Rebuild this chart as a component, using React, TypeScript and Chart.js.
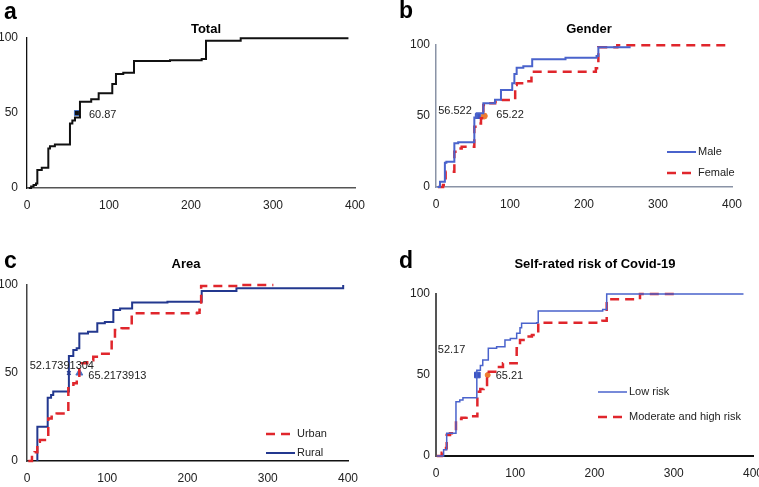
import React, { useEffect, useRef } from 'react';
import { Chart, registerables } from 'chart.js';
Chart.register(...registerables);

const W = 759;
const H = 487;
const FONT = "'Liberation Sans', Arial, Helvetica, sans-serif";

// ---- Axis ticks ----
const xTickStep = 100;
const yTickStep = 50;

// ---- Panel a: Total ----
const totalTimes = [2, 5, 8, 11, 12.6, 18, 26, 28, 34, 52.4, 55.3, 58.5, 64.6, 78.3, 87.4, 104, 108.5, 117.4, 130.5, 174.4, 213, 218.3, 260.6, 392];
const totalPct = [0, 1, 2, 3, 12, 13.5, 26.4, 27.8, 29, 43, 45, 47, 57.5, 59.1, 63.1, 69.3, 76, 76.9, 84.7, 85.1, 86, 98.2, 99.8, 99.8];
const totalMedian = 60.87;

// ---- Panel b: Gender ----
const maleTimes = [2, 5.4, 12, 14, 24.8, 30, 51.8, 55, 64, 79.7, 87.8, 103, 105.9, 109, 118, 130, 175, 217, 219.4, 263];
const malePct = [0, 3.7, 17, 17.8, 30.8, 31.5, 49, 52, 59, 61.4, 68.3, 73, 79.6, 84, 85, 90, 91, 92.2, 98.4, 98.4];
const femaleTimes = [2.7, 9.5, 13, 24.8, 30, 34.7, 51.8, 57.2, 60.8, 64, 68.5, 80, 89, 107, 109, 120, 129, 216, 219.4, 245, 397];
const femalePct = [0, 1.4, 10.8, 24.9, 27.2, 28.4, 42.5, 44.8, 48.4, 57.7, 59, 60, 61.3, 71.8, 73, 74.5, 81.2, 83.6, 98.4, 99.8, 99.8];
const maleMedian = 56.522;
const femaleMedian = 65.22;

// ---- Panel c: Area ----
const urbanTimes = [1.6, 6.2, 9.5, 12.9, 16, 26.5, 30.7, 37, 51.5, 57.8, 62, 65.2, 75, 82.6, 91, 105.5, 109.6, 117.9, 130.5, 212, 215, 217, 264, 307];
const urbanPct = [0, 3.8, 5, 11, 12, 24.2, 25.2, 27, 42.4, 44.2, 46.1, 55.5, 57.3, 59.2, 61, 67.8, 74.4, 75.4, 83.9, 84.2, 86, 99.4, 100, 100];
const ruralTimes = [12.9, 12.9, 25.8, 30, 32.7, 52.2, 57.7, 61.9, 65.2, 76, 87.6, 97, 107.6, 116, 131, 175, 217.7, 217.7, 261, 394];
const ruralPct = [0, 19.5, 36, 37.5, 39.5, 59.7, 63, 64, 72.5, 73.5, 78.2, 79, 85.8, 86.6, 90, 90.5, 91, 96.6, 98.2, 100];
const ruralMedian = 52.17391304;
const urbanMedian = 65.2173913;

// ---- Panel d: Self-rated risk ----
const lowTimes = [1, 9.6, 13.5, 25.2, 30, 34, 51.5, 56, 59, 66, 76.5, 87, 93.8, 101.8, 106, 108, 127, 129, 210.3, 215.4, 388];
const lowPct = [0, 3.9, 14, 33.5, 34.6, 36, 53, 55.8, 59.3, 66.5, 67.5, 71.6, 72.6, 75.7, 79.2, 81.9, 82.3, 89.5, 90.5, 100, 100];
const modTimes = [1, 7.2, 12.6, 13.5, 17.7, 25.2, 32.2, 38.5, 52.2, 55.9, 60, 64.4, 76.6, 84.5, 101.8, 106, 112.8, 121, 129, 210, 215.4, 257.4, 303.7];
const modPct = [0, 2, 5, 13, 14, 22.8, 23.6, 24.6, 39.7, 41.3, 43.8, 52, 55, 57.2, 66.5, 71.6, 73.7, 74.7, 82.3, 83.5, 96.7, 100, 100];
const lowMedian = 52.17;
const modMedian = 65.21;

const RED = '#e0262c';
const BLUE = '#4a63cc';
const NAVY = '#23388f';
const ORANGE = '#ed7d31';

const pts = (xs: number[], ys: number[]) => xs.map((x, i) => ({ x, y: ys[i] }));

const overlayPlugin = {
  id: 'overlay',
  afterDatasetsDraw(chart: any, _args: any, opts: any) {
    const ctx = chart.ctx;
    const ca = chart.chartArea;
    ctx.save();
    // median labels
    (opts.labels || []).forEach((l: any) => {
      const el = chart.getDatasetMeta(l.ds).data[0];
      ctx.font = `11px ${FONT}`;
      ctx.fillStyle = '#222';
      ctx.textAlign = l.align;
      ctx.textBaseline = 'middle';
      ctx.fillText(l.text, el.x + l.dx, el.y + l.dy);
    });
    // legend
    const lg = opts.legend;
    if (lg) {
      lg.items.forEach((it: any, i: number) => {
        const x0 = ca.left + lg.dx;
        const y = ca.bottom - lg.dy + i * lg.gap;
        ctx.beginPath();
        ctx.strokeStyle = it.color;
        ctx.lineWidth = it.width;
        ctx.setLineDash(it.dash || []);
        ctx.moveTo(x0, y);
        ctx.lineTo(x0 + 29, y);
        ctx.stroke();
        ctx.setLineDash([]);
        ctx.font = `11px ${FONT}`;
        ctx.fillStyle = '#222';
        ctx.textAlign = 'left';
        ctx.textBaseline = 'middle';
        ctx.fillText(it.text, x0 + 31, y);
      });
    }
    // title and panel letter
    if (opts.title) {
      ctx.font = `bold 13px ${FONT}`;
      ctx.fillStyle = '#000';
      ctx.textAlign = 'center';
      ctx.textBaseline = 'middle';
      ctx.fillText(opts.title.text, opts.title.x, opts.title.y);
    }
    if (opts.letter) {
      ctx.font = `bold 23px ${FONT}`;
      ctx.fillStyle = '#000';
      ctx.textAlign = 'left';
      ctx.textBaseline = 'alphabetic';
      ctx.fillText(opts.letter.text, opts.letter.x, opts.letter.y);
    }
    ctx.restore();
  },
};

type Series = { x: number[]; y: number[]; color: string; width: number; dash?: number[] };
type Marker = { x: number; style: string; radius: number; fill: string; stroke: string; bw?: number };

function makeConfig(p: any) {
  const XH = 25;
  const lineSets = p.series.map((s: Series) => ({
    data: pts(s.x, s.y),
    borderColor: s.color,
    borderWidth: s.width,
    borderDash: s.dash || [],
    stepped: 'before',
    pointRadius: 0,
    fill: false,
    clip: false,
  }));
  const markerSets = p.markers.map((m: Marker) => ({
    data: [{ x: m.x, y: 50 }],
    showLine: false,
    pointStyle: m.style,
    pointRadius: m.radius,
    backgroundColor: m.fill,
    borderColor: m.stroke,
    borderWidth: m.bw ?? 1,
    clip: false,
  }));
  return {
    type: 'line',
    data: { datasets: [...lineSets, ...markerSets] },
    options: {
      animation: false,
      responsive: false,
      events: [],
      layout: { padding: { left: 0, top: p.top, right: W - p.right, bottom: H - p.bottom - XH } },
      plugins: {
        legend: { display: false },
        tooltip: { enabled: false },
        overlay: p.overlay,
      },
      scales: {
        x: {
          type: 'linear',
          min: 0,
          max: 400,
          ticks: { stepSize: xTickStep, padding: 10, maxRotation: 0, font: { size: 12, family: FONT }, color: '#222' },
          grid: { display: false, drawTicks: false },
          border: { display: true, color: p.xAxisColor, width: p.xAxisWidth },
          afterFit: (s: any) => { s.height = XH; s.paddingLeft = 0; s.paddingRight = 0; },
        },
        y: {
          type: 'linear',
          min: 0,
          max: 100,
          ticks: { stepSize: yTickStep, padding: p.yPad, font: { size: 12, family: FONT }, color: '#222' },
          grid: { display: false, drawTicks: false },
          border: { display: true, color: p.yAxisColor, width: p.yAxisWidth },
          afterFit: (s: any) => { s.width = p.left; s.paddingTop = 0; s.paddingBottom = 0; },
        },
      },
    },
    plugins: [overlayPlugin],
  };
}

const panels = [
  {
    left: 27, right: 355, top: 38, bottom: 188, yPad: 9,
    xAxisColor: '#555', xAxisWidth: 1.5, yAxisColor: '#111', yAxisWidth: 1.3,
    series: [{ x: totalTimes, y: totalPct, color: '#111', width: 2 }],
    markers: [{ x: totalMedian, style: 'rect', radius: 3.5, fill: '#111', stroke: '#4472c4', bw: 1 }],
    overlay: {
      labels: [{ ds: 1, text: '60.87', dx: 12, dy: 2, align: 'left' }],
      title: { text: 'Total', x: 206, y: 29 },
      letter: { text: 'a', x: 4, y: 19 },
    },
  },
  {
    left: 436, right: 732, top: 45, bottom: 187, yPad: 6,
    xAxisColor: '#8a93a6', xAxisWidth: 1.5, yAxisColor: '#8a93a6', yAxisWidth: 1.5,
    series: [
      { x: maleTimes, y: malePct, color: BLUE, width: 2 },
      { x: femaleTimes, y: femalePct, color: RED, width: 2.5, dash: [9, 6] },
    ],
    markers: [
      { x: maleMedian, style: 'rect', radius: 3.5, fill: '#3c55c4', stroke: '#3c55c4' },
      { x: femaleMedian, style: 'circle', radius: 3, fill: ORANGE, stroke: ORANGE },
    ],
    overlay: {
      labels: [
        { ds: 2, text: '56.522', dx: -6, dy: -5, align: 'right' },
        { ds: 3, text: '65.22', dx: 12, dy: -1, align: 'left' },
      ],
      legend: {
        dx: 231, dy: 35, gap: 21,
        items: [
          { text: 'Male', color: BLUE, width: 2 },
          { text: 'Female', color: RED, width: 2.5, dash: [9, 6] },
        ],
      },
      title: { text: 'Gender', x: 589, y: 29 },
      letter: { text: 'b', x: 399, y: 18 },
    },
  },
  {
    left: 27, right: 348, top: 285, bottom: 461, yPad: 9,
    xAxisColor: '#111', xAxisWidth: 1.5, yAxisColor: '#444', yAxisWidth: 1.5,
    series: [
      { x: urbanTimes, y: urbanPct, color: RED, width: 2.5, dash: [9, 6] },
      { x: ruralTimes, y: ruralPct, color: NAVY, width: 2 },
    ],
    markers: [
      { x: ruralMedian, style: 'crossRot', radius: 2.5, fill: NAVY, stroke: NAVY, bw: 1.5 },
      { x: urbanMedian, style: 'triangle', radius: 4, fill: '#4472c4', stroke: '#4472c4' },
    ],
    overlay: {
      labels: [
        { ds: 2, text: '52.17391304', dx: -7, dy: -7, align: 'center' },
        { ds: 3, text: '65.2173913', dx: 9, dy: 3, align: 'left' },
      ],
      legend: {
        dx: 239, dy: 27, gap: 19,
        items: [
          { text: 'Urban', color: RED, width: 2.5, dash: [9, 6] },
          { text: 'Rural', color: NAVY, width: 2 },
        ],
      },
      title: { text: 'Area', x: 186, y: 264 },
      letter: { text: 'c', x: 4, y: 268 },
    },
  },
  {
    left: 436, right: 753, top: 294, bottom: 456, yPad: 6,
    xAxisColor: '#111', xAxisWidth: 2, yAxisColor: '#555', yAxisWidth: 2,
    series: [
      { x: lowTimes, y: lowPct, color: BLUE, width: 1.5 },
      { x: modTimes, y: modPct, color: RED, width: 2.5, dash: [9, 6] },
    ],
    markers: [
      { x: lowMedian, style: 'rect', radius: 4, fill: '#3c55c4', stroke: '#3c55c4' },
      { x: modMedian, style: 'circle', radius: 2.5, fill: ORANGE, stroke: ORANGE },
    ],
    overlay: {
      labels: [
        { ds: 2, text: '52.17', dx: -12, dy: -25, align: 'right' },
        { ds: 3, text: '65.21', dx: 8, dy: 1, align: 'left' },
      ],
      legend: {
        dx: 162, dy: 64, gap: 25,
        items: [
          { text: 'Low risk', color: BLUE, width: 1.5 },
          { text: 'Moderate and high risk', color: RED, width: 2.5, dash: [9, 6] },
        ],
      },
      title: { text: 'Self-rated risk of Covid-19', x: 595, y: 264 },
      letter: { text: 'd', x: 399, y: 268 },
    },
  },
];

function Panel({ cfg }: { cfg: any }) {
  const ref = useRef<HTMLCanvasElement | null>(null);
  useEffect(() => {
    if (!ref.current) return;
    const chart = new Chart(ref.current, makeConfig(cfg) as any);
    return () => chart.destroy();
  }, [cfg]);
  return (
    <canvas
      ref={ref}
      width={W}
      height={H}
      style={{ position: 'absolute', left: 0, top: 0, width: W, height: H }}
    />
  );
}

export default function App() {
  useEffect(() => {
    document.body.style.margin = '0';
    document.body.style.overflow = 'hidden';
  }, []);
  return (
    <div style={{ position: 'fixed', left: 0, top: 0, width: W, height: H, overflow: 'hidden', background: '#fff' }}>
      {panels.map((p, i) => (
        <Panel key={i} cfg={p} />
      ))}
    </div>
  );
}
